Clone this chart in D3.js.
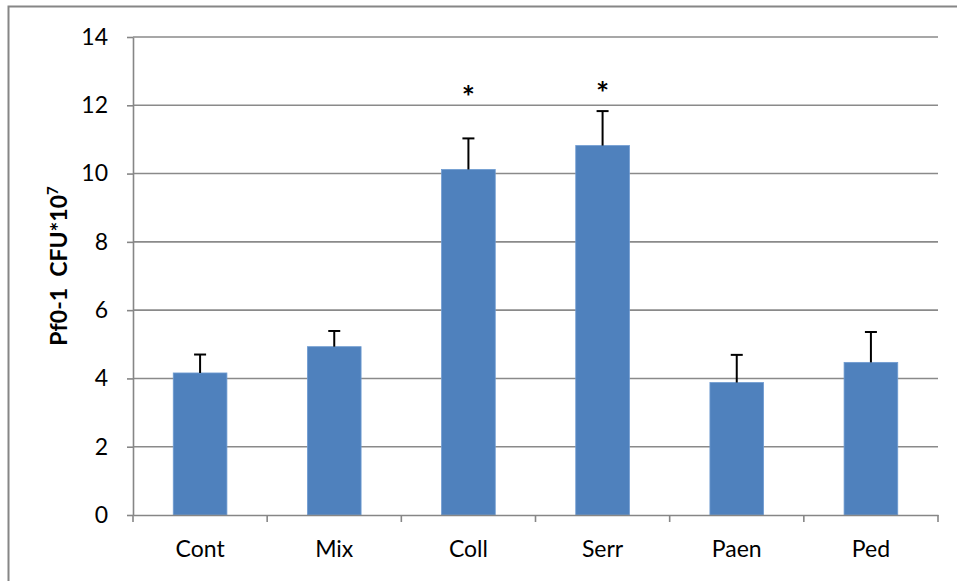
<!DOCTYPE html>
<html>
<head>
<meta charset="utf-8">
<script src="https://cdn.jsdelivr.net/npm/d3@7"></script>
<style>
  body { margin: 0; background: #fff; }
  svg { display: block; }
  .lbl { font-family: Lato, 'Open Sans', sans-serif; fill: #000; }
</style>
</head>
<body>
<svg id="chart" width="957" height="581"></svg>
<script>
// Pf0-1 colony counts per treatment (CFU x 10^7), with standard errors
const categories = ["Cont", "Mix", "Coll", "Serr", "Paen", "Ped"];
const means = [4.16, 4.93, 10.12, 10.82, 3.88, 4.47];
const errors = [0.54, 0.46, 0.91, 1.01, 0.81, 0.89];
// significance asterisks: category and the value height they sit at
const starCategories = ["Coll", "Serr"];
const starLevels = [12.43, 12.55];
const yTicks = [0, 2, 4, 6, 8, 10, 12, 14];

const svg = d3.select("#chart");

const plot = { left: 133, right: 938, top: 37, bottom: 515 };

const x = d3.scaleBand().domain(categories).range([plot.left, plot.right]).padding(0);
const y = d3.scaleLinear().domain([0, 14]).range([plot.bottom, plot.top]);
const barW = x.bandwidth() * 0.4;

// outer chart frame
svg.append("rect")
  .attr("x", 8.5).attr("y", 6.5).attr("width", 1000).attr("height", 1000)
  .attr("fill", "none").attr("stroke", "#868686").attr("stroke-width", 2);

// horizontal gridlines
svg.append("g").selectAll("line").data(yTicks.filter(d => d > 0)).join("line")
  .attr("x1", plot.left).attr("x2", plot.right)
  .attr("y1", d => y(d)).attr("y2", d => y(d))
  .attr("stroke", "#8a8a8a").attr("stroke-width", 1.6);

// bars
svg.append("g").selectAll("rect").data(categories).join("rect")
  .attr("x", d => x(d) + (x.bandwidth() - barW) / 2)
  .attr("width", barW)
  .attr("y", (d, i) => y(means[i]))
  .attr("height", (d, i) => y(0) - y(means[i]))
  .attr("fill", "#4f81bd")
  .attr("stroke", "#6f9bd1").attr("stroke-width", 0.8);

// error bars (upper half only)
const eb = svg.append("g").attr("stroke", "#000").attr("stroke-width", 2);
categories.forEach((c, i) => {
  const cx = x(c) + x.bandwidth() / 2;
  eb.append("line").attr("x1", cx).attr("x2", cx)
    .attr("y1", y(means[i])).attr("y2", y(means[i] + errors[i]));
  eb.append("line").attr("x1", cx - 6).attr("x2", cx + 6)
    .attr("y1", y(means[i] + errors[i])).attr("y2", y(means[i] + errors[i]));
});

// significance markers
svg.append("g").selectAll("text").data(starCategories).join("text")
  .attr("class", "lbl")
  .attr("x", d => x(d) + x.bandwidth() / 2)
  .attr("y", (d, i) => y(starLevels[i]) + 17)
  .attr("text-anchor", "middle")
  .style("font-size", "31px").style("font-weight", "bold")
  .text("*");

// y axis
const yAxis = svg.append("g")
  .attr("transform", `translate(${plot.left},0)`)
  .call(d3.axisLeft(y).tickValues(yTicks).tickSize(6).tickPadding(19).tickSizeOuter(0));
yAxis.select(".domain").attr("stroke", "#868686").attr("stroke-width", 1.6);
yAxis.selectAll(".tick line").attr("stroke", "#868686").attr("stroke-width", 1.6);
yAxis.selectAll("text").attr("class", "lbl").style("font-size", "23px");

// x axis
const xAxis = svg.append("g")
  .attr("transform", `translate(0,${plot.bottom})`)
  .call(d3.axisBottom(x).tickSize(0).tickPadding(26).tickSizeOuter(0));
xAxis.select(".domain").attr("stroke", "#868686").attr("stroke-width", 1.6);
xAxis.selectAll("text").attr("class", "lbl").style("font-size", "23px");
// category boundary ticks
svg.append("g").selectAll("line").data(d3.range(categories.length + 1)).join("line")
  .attr("x1", i => plot.left + i * x.step()).attr("x2", i => plot.left + i * x.step())
  .attr("y1", plot.bottom).attr("y2", plot.bottom + 7)
  .attr("stroke", "#868686").attr("stroke-width", 1.6);

// y axis title
const title = svg.append("text")
  .attr("class", "lbl")
  .attr("transform", "translate(67,266) rotate(-90)")
  .attr("text-anchor", "middle")
  .style("font-size", "23px").style("font-weight", "bold")
  .attr("xml:space", "preserve");
title.append("tspan").text("Pf0-1  CFU*10");
title.append("tspan").attr("dy", -9).style("font-size", "15px").text("7");
</script>
</body>
</html>
